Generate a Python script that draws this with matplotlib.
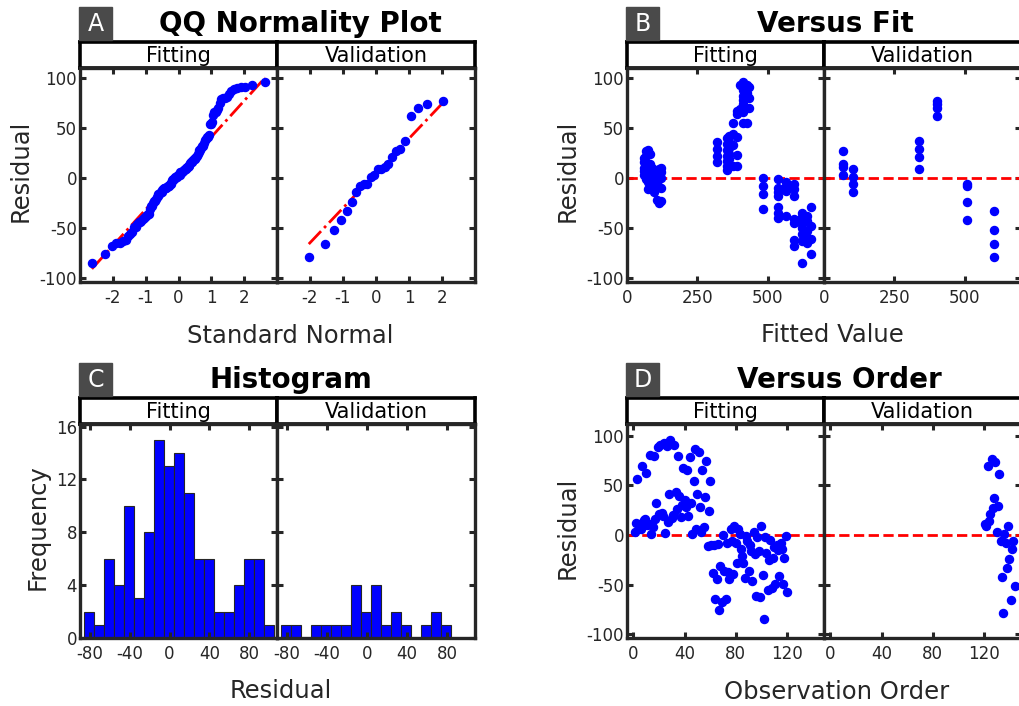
import numpy as np
import matplotlib
matplotlib.use("Agg")
import matplotlib.pyplot as plt
import matplotlib.patches as mpatches
from statistics import NormalDist

W, H = 1020, 706
BLUE = "#0000ff"
RED = "#ff0000"
DARK = "#262626"
BOX = "#4a4a4a"

plt.rcParams["font.family"] = "DejaVu Sans"
plt.rcParams["axes.unicode_minus"] = False

# residuals in observation order (fitting obs 1-120, validation obs 121-144)
fit_resid = [3, 12, 56, 7, 11, 6, 70, 15, 16, 63,
             10, 11, 81, 1, 8, 80, 16, 32, 89, 21,
             91, 22, 19, 93, 2, 90, 13, 41, 96, 17,
             20, 91, 43, 26, 80, 39, 18, 30, 68, 35,
             28, 66, 19, 79, 32, 1, 54, 87, 6, 41,
             84, 28, 3, 66, 8, 38, 75, -11, 24, 54,
             -10, -38, -10, -65, -44, -9, -76, -31, -68, 0,
             -36, -65, -8, -37, -44, 6, -6, -39, 9, -8,
             -28, 6, 1, -14, -21, -28, -43, -1, -6, -36,
             -10, -16, -46, 3, -19, -62, -2, -16, -63, 9,
             -40, -85, -2, -18, -56, -25, -5, -54, -23, -12,
             -49, -10, -15, -41, -8, -14, -49, -23, -1, -58]
val_resid = [11, 9, 70, 14, 21, 77, 27, 37, 74, 3,
             29, 62, -6, -42, -79, 1, -8, -33, 9, -24,
             -66, -14, -6, -52]
fit_order = np.arange(1, len(fit_resid) + 1)
val_order = np.arange(len(fit_resid) + 1, len(fit_resid) + len(val_resid) + 1)

# fitted values of validation obs (same order as val_resid)
val_fitted = [68, 102, 402, 68, 338, 402, 68, 338, 402, 68, 338, 402,
              102, 507, 603, 102, 507, 603, 338, 507, 603, 102, 507, 603]

# fitting obs in the versus-fit panel, grouped by fitted value
fv_cols = [62, 68, 75, 82, 90, 96, 106, 114, 122,
           321, 355, 362, 375, 392, 400, 412, 425, 435,
           485, 538, 565, 592, 622, 638, 654]
fv_col_resid = [
    [20, 16, 10, 7, 3],
    [27, 22, 12, 5, -1],
    [28, 25, 8, 2, -4, -11],
    [24, 14, 6, -8],
    [10, 4, -3],
    [8, 2, -10, -14],
    [7, 1, -6, -22],
    [9, 3, -9, -25],
    [10, 6, 0, -10, -23],
    [36, 29, 22, 16],
    [40, 34, 28, 22, 17, 12, 8],
    [42, 36, 30, 24, 19, 13],
    [55, 44, 33, 12],
    [67, 64, 41, 23, 12],
    [93, 69],
    [96, 88, 82, 78, 74, 66, 55],
    [93, 85, 55],
    [91, 80, 70],
    [0, -8, -16, -31],
    [-1, -10, -14, -18, -29, -35, -40],
    [-4, -8, -13, -38],
    [-6, -11, -18, -41, -45, -62, -68],
    [-35, -39, -43, -46, -50, -56, -63, -85],
    [-38, -43, -53, -60, -65],
    [-29, -48, -61, -76],
]

hist_edges = np.arange(-85.5, 105, 10)


def px_axes(fig, x0, y0, x1, y1):
    return fig.add_axes([x0 / W, 1 - y1 / H, (x1 - x0) / W, (y1 - y0) / H])


def frame(ax, xlim, ylim, xticks, yticks, show_y):
    ax.set_xlim(*xlim)
    ax.set_ylim(*ylim)
    ax.set_xticks(xticks)
    ax.set_yticks(yticks)
    ax.tick_params(direction="in", top=True, right=True, length=4, width=2.2,
                   colors=DARK, labelsize=12, pad=5)
    ax.tick_params(axis="y", pad=2, labelleft=show_y)
    for sp in ax.spines.values():
        sp.set_linewidth(2.4)
        sp.set_color(DARK)


def header(fig, x0, x1, y0, y1, text):
    ax = px_axes(fig, x0, y0, x1, y1)
    ax.set_xticks([])
    ax.set_yticks([])
    for sp in ax.spines.values():
        sp.set_linewidth(2.6)
        sp.set_color("black")
    ax.text(0.5, 0.47, text, ha="center", va="center", fontsize=15,
            transform=ax.transAxes)


def panel(fig, left, mid, right, top, bottom, letter, title, title_x):
    header(fig, left, mid, top - 26, top, "Fitting")
    header(fig, mid, right, top - 26, top, "Validation")
    ax1 = px_axes(fig, left, top, mid, bottom)
    ax2 = px_axes(fig, mid, top, right, bottom)
    bx, by = left - 1, top - 61
    fig.patches.append(mpatches.Rectangle((bx / W, 1 - (by + 33) / H), 33 / W, 33 / H,
                                          transform=fig.transFigure, color=BOX))
    fig.text((bx + 16.5) / W, 1 - (by + 17) / H, letter, color="white", fontsize=17,
             ha="center", va="center")
    fig.text(title_x / W, 1 - (top - 36) / H, title, fontsize=20, fontweight="bold",
             ha="center", va="baseline")
    return ax1, ax2


def qq(ax, resid):
    y = np.sort(resid)
    n = len(y)
    x = np.array([NormalDist().inv_cdf((i - 0.5) / n) for i in range(1, n + 1)])
    q1, q3 = np.percentile(y, [25, 75], method="hazen")
    z = NormalDist().inv_cdf(0.75)
    slope = (q3 - q1) / (2 * z)
    mid = (q1 + q3) / 2
    xl = np.array([x[0], x[-1]])
    ax.plot(xl, mid + slope * xl, "-.", color=RED, lw=2, zorder=2)
    ax.plot(x, y, "o", color=BLUE, ms=5.8, zorder=3)


fig = plt.figure(figsize=(W / 100, H / 100), dpi=100)

# A: QQ plot
a1, a2 = panel(fig, 80, 277, 475, 68, 282, "A", "QQ Normality Plot", 300)
qq(a1, fit_resid)
qq(a2, val_resid)
for ax, show in [(a1, True), (a2, False)]:
    frame(ax, (-3, 3), (-104.5, 110), [-2, -1, 0, 1, 2], [-100, -50, 0, 50, 100], show)

# B: versus fit
b1, b2 = panel(fig, 627, 824, 1021, 68, 282, "B", "Versus Fit", 835)
fv_x = np.concatenate([[c] * len(r) for c, r in zip(fv_cols, fv_col_resid)])
fv_y = np.concatenate(fv_col_resid)
b1.plot(fv_x, fv_y, "o", color=BLUE, ms=5.8, zorder=3)
b2.plot(val_fitted, val_resid, "o", color=BLUE, ms=5.8, zorder=3)
for ax, show in [(b1, True), (b2, False)]:
    ax.axhline(0, color=RED, ls="--", lw=2, zorder=2)
    frame(ax, (0, 700), (-104.5, 110), [0, 250, 500], [-100, -50, 0, 50, 100], show)

# C: histogram
c1, c2 = panel(fig, 80, 277, 475, 424, 638, "C", "Histogram", 291)
c1.hist(fit_resid, bins=hist_edges, color=BLUE, edgecolor=DARK, linewidth=0.8)
c2.hist(val_resid, bins=hist_edges, color=BLUE, edgecolor=DARK, linewidth=0.8)
for ax, show in [(c1, True), (c2, False)]:
    frame(ax, (-90, 108), (0, 16.2), [-80, -40, 0, 40, 80], [0, 4, 8, 12, 16], show)

# D: versus order
d1, d2 = panel(fig, 627, 824, 1021, 424, 638, "D", "Versus Order", 839)
d1.plot(fit_order, fit_resid, "o", color=BLUE, ms=5.8, zorder=3)
d2.plot(val_order, val_resid, "o", color=BLUE, ms=5.8, zorder=3)
for ax, show in [(d1, True), (d2, False)]:
    ax.axhline(0, color=RED, ls="--", lw=2, zorder=2)
    frame(ax, (-5, 149), (-104, 112), [0, 40, 80, 120], [-100, -50, 0, 50, 100], show)

# axis labels
lab = dict(fontsize=17.5, color=DARK)
fig.text(290 / W, 1 - 343 / H, "Standard Normal", ha="center", va="baseline", **lab)
fig.text(832 / W, 1 - 342 / H, "Fitted Value", ha="center", va="baseline", **lab)
fig.text(281 / W, 1 - 698 / H, "Residual", ha="center", va="baseline", **lab)
fig.text(837 / W, 1 - 699 / H, "Observation Order", ha="center", va="baseline", **lab)
fig.text(21 / W, 1 - 171 / H, "Residual", rotation=90, ha="center", va="center", **lab)
fig.text(568 / W, 1 - 171 / H, "Residual", rotation=90, ha="center", va="center", **lab)
fig.text(37.5 / W, 1 - 527 / H, "Frequency", rotation=90, ha="center", va="center", **lab)
fig.text(568 / W, 1 - 528 / H, "Residual", rotation=90, ha="center", va="center", **lab)

fig.savefig("out.png", dpi=100)
